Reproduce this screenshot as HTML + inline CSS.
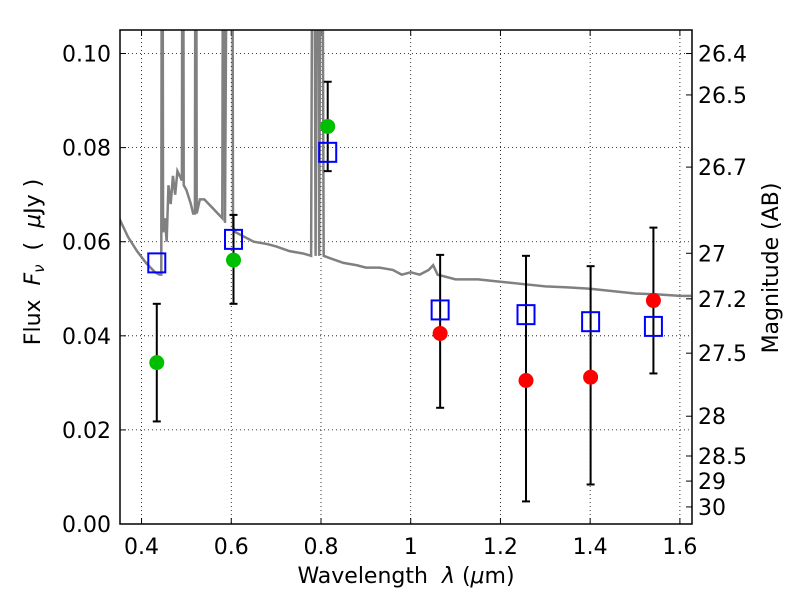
<!DOCTYPE html>
<html><head><meta charset="utf-8"><style>
body{margin:0;background:#fff}
svg{font-family:"DejaVu Sans","Liberation Sans",sans-serif}
</style></head><body>
<svg id="chart" width="800" height="600" viewBox="0 0 800 600" xmlns="http://www.w3.org/2000/svg"></svg>
<script>
const specX=[0.35,0.37,0.39,0.41,0.43,0.440,0.444,0.446,0.448,0.452,0.456,0.46,0.465,0.47,0.475,0.48,0.485,0.49,0.492,0.494,0.50,0.51,0.515,0.519,0.521,0.523,0.53,0.54,0.55,0.56,0.57,0.58,0.583,0.586,0.594,0.598,0.601,0.604,0.61,0.63,0.65,0.68,0.70,0.73,0.76,0.778,0.783,0.788,0.792,0.796,0.801,0.806,0.82,0.85,0.88,0.90,0.93,0.96,0.98,1.0,1.02,1.04,1.05,1.06,1.08,1.10,1.15,1.2,1.25,1.3,1.35,1.4,1.45,1.5,1.55,1.6,1.625];
const specY=[0.065,0.061,0.058,0.0555,0.0535,0.053,0.053,0.2,0.062,0.065,0.06,0.072,0.068,0.074,0.07,0.075,0.074,0.073,0.2,0.072,0.071,0.068,0.066,0.066,0.2,0.066,0.069,0.069,0.068,0.067,0.066,0.065,0.2,0.064,0.2,0.2,0.2,0.063,0.062,0.061,0.060,0.0595,0.059,0.058,0.0575,0.057,0.2,0.057,0.2,0.057,0.2,0.057,0.0565,0.0555,0.055,0.0545,0.0545,0.054,0.053,0.0535,0.053,0.054,0.055,0.053,0.0525,0.052,0.052,0.0515,0.051,0.0505,0.0503,0.050,0.0495,0.049,0.0488,0.0485,0.0485];
const greenX=[0.434,0.605,0.815];
const greenY=[0.0343,0.0561,0.0845];
const greenLo=[0.0218,0.0468,0.075];
const greenHi=[0.0468,0.0657,0.094];
const blueX=[0.434,0.605,0.815,1.0656,1.257,1.401,1.541];
const blueY=[0.0555,0.0605,0.079,0.0455,0.0445,0.043,0.042];
const redX=[1.0656,1.257,1.401,1.541];
const redY=[0.0405,0.0305,0.0312,0.0475];
const redLo=[0.0247,0.0048,0.0084,0.032];
const redHi=[0.0572,0.057,0.0548,0.063];
const xTicks=[0.4,0.6,0.8,1.0,1.2,1.4,1.6];
const xTickLabels=["0.4","0.6","0.8","1","1.2","1.4","1.6"];
const yTicks=[0,0.02,0.04,0.06,0.08,0.10];
const yTickLabels=["0.00","0.02","0.04","0.06","0.08","0.10"];
const magTicks=[26.4,26.5,26.7,27,27.2,27.5,28,28.5,29,30];

const L=120,R=692,T=30,B=524,x0=0.352,x1=1.627,y0=0,y1=0.105;
const sx=v=>L+(v-x0)/(x1-x0)*(R-L);
const sy=v=>B-(v-y0)/(y1-y0)*(B-T);
const svg=document.getElementById('chart');
const NS="http://www.w3.org/2000/svg";
function mk(tag,attrs,parent){const e=document.createElementNS(NS,tag);for(const k in attrs)e.setAttribute(k,attrs[k]);(parent||svg).appendChild(e);return e;}
const defs=mk('defs',{});const cp=mk('clipPath',{id:'clip'},defs);mk('rect',{x:L,y:T,width:R-L,height:B-T},cp);
const grid=mk('g',{stroke:'#000','stroke-width':0.8,'stroke-dasharray':'1,3'});


xTicks.forEach((v,i)=>{
  mk('line',{x1:sx(v),x2:sx(v),y1:T,y2:B},grid);
  const t=mk('text',{x:sx(v),y:B+30,'font-size':22,'text-anchor':'middle'});t.textContent=xTickLabels[i];
  
  
  mk('line',{x1:sx(v),x2:sx(v),y1:B,y2:B-6,stroke:'#000'});mk('line',{x1:sx(v),x2:sx(v),y1:T,y2:T+6,stroke:'#000'});
});
yTicks.forEach((v,i)=>{
  mk('line',{x1:L,x2:R,y1:sy(v),y2:sy(v)},grid);
  const t=mk('text',{x:L-9,y:sy(v)+8,'font-size':22,'text-anchor':'end'});t.textContent=yTickLabels[i];
  
  
  mk('line',{x1:L,x2:L+6,y1:sy(v),y2:sy(v),stroke:'#000'});
});
magTicks.forEach(m=>{
  const f=Math.pow(10,-0.4*(m-23.9));const y=sy(f);
  mk('line',{x1:R,x2:R-6,y1:y,y2:y,stroke:'#000'});
  const t=mk('text',{x:R+6,y:y+8,'font-size':22});t.textContent=String(m);
  
  
});
const g=mk('g',{'clip-path':'url(#clip)'});
const sp=mk('polyline',{points:specX.map((x,i)=>sx(x)+','+sy(specY[i])).join(' '),fill:'none',stroke:'#808080','stroke-width':2.5},g);


function err(x,lo,hi){const X=sx(x);mk('line',{x1:X,x2:X,y1:sy(lo),y2:sy(hi),stroke:'#000','stroke-width':2},g);
  [lo,hi].forEach(v=>mk('line',{x1:X-4,x2:X+4,y1:sy(v),y2:sy(v),stroke:'#000','stroke-width':2},g));}
greenX.forEach((x,i)=>err(x,greenLo[i],greenHi[i]));
redX.forEach((x,i)=>err(x,redLo[i],redHi[i]));
greenX.forEach((x,i)=>{const c=mk('circle',{cx:sx(x),cy:sy(greenY[i]),r:7.5,fill:'#00bf00'},g);
  
  });
redX.forEach((x,i)=>{const c=mk('circle',{cx:sx(x),cy:sy(redY[i]),r:7.5,fill:'#ff0000'},g);
  
  });
blueX.forEach((x,i)=>{const r=mk('rect',{x:sx(x)-8.5,y:sy(blueY[i])-9.5,width:17,height:19,fill:'none',stroke:'#0000ff','stroke-width':2},g);
  
  });
const fr=mk('rect',{x:L,y:T,width:R-L,height:B-T,fill:'none',stroke:'#000','stroke-width':1.5});


const xl=mk('text',{x:406,y:583,'font-size':22,'text-anchor':'middle'});
xl.innerHTML='Wavelength\u00a0 <tspan font-style="italic">λ</tspan> (<tspan font-style="italic">μ</tspan>m)';


const yl=mk('text',{transform:'translate(40,262) rotate(-90)','font-size':22,'text-anchor':'middle'});
yl.innerHTML='Flux\u00a0 <tspan font-style="italic">F</tspan><tspan font-style="italic" font-size="15" dy="4">ν</tspan><tspan dy="-4">\u00a0\u00a0(\u00a0\u00a0</tspan><tspan font-style="italic">μ</tspan>Jy )';


const rl=mk('text',{transform:'translate(778,268) rotate(-90)','font-size':22,'text-anchor':'middle'});
rl.textContent='Magnitude (AB)';


</script>
</body></html>
